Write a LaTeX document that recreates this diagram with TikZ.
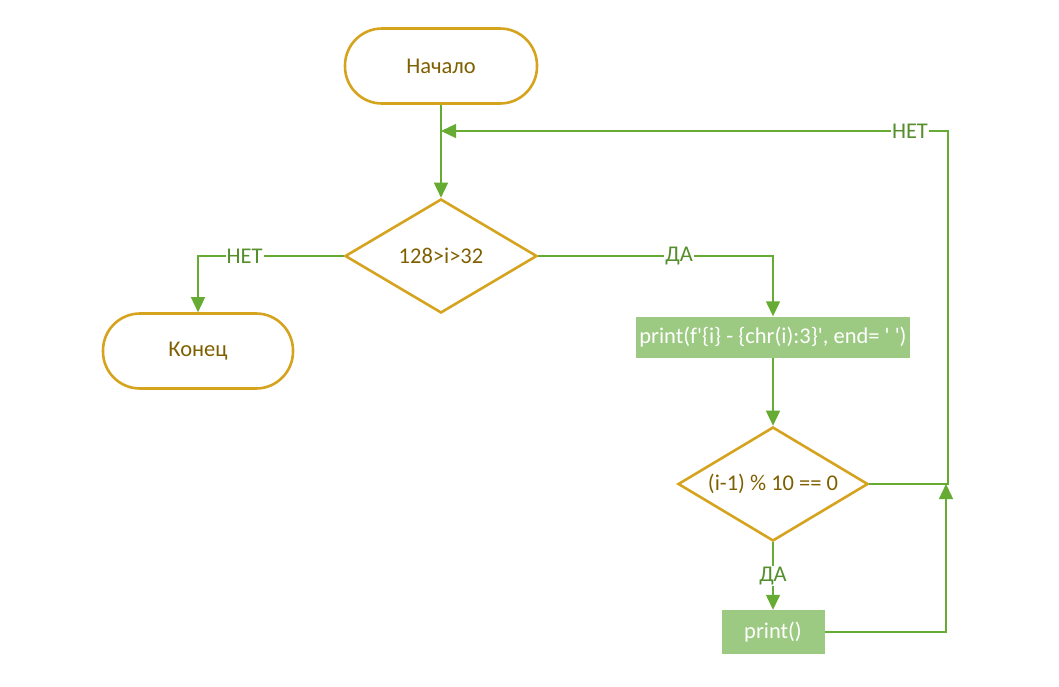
\documentclass[tikz,border=0pt]{standalone}
\usepackage{fontspec}
\setmainfont{Carlito}
\usepackage{xcolor}
\usetikzlibrary{shapes.geometric, arrows.meta, positioning}
\definecolor{gold}{HTML}{D6A31E}
\definecolor{goldtext}{HTML}{7F6000}
\definecolor{flowgreen}{HTML}{66AB33}
\definecolor{lblgreen}{HTML}{548F2C}
\definecolor{boxgreen}{HTML}{9CCA82}
\newcommand{\q}{\textquotesingle}

\begin{document}
\begin{tikzpicture}[x=1pt, y=-1pt, font=\fontsize{22.5}{25}\selectfont,
  term/.style={draw=gold, line width=2.6pt, rounded corners=37pt, text=goldtext,
               minimum width=#1, minimum height=75pt, inner sep=0pt},
  cond/.style={draw=gold, line width=2.6pt, diamond, aspect=1.67, text=goldtext,
               minimum width=#1, minimum height=114pt, inner sep=0pt},
  proc/.style={fill=boxgreen, text=white, minimum height=#1, inner sep=2pt},
  flow/.style={draw=flowgreen, line width=1.4pt, -{Triangle[length=15pt,width=14pt]}},
  lbl/.style={fill=white, text=lblgreen, inner sep=1pt}]
\useasboundingbox (0,0) rectangle (1059,686);
%
\node[term=192pt] (start) at (441,66) {Начало};
\node[cond=192pt] (check) at (441,256) {128>i>32};
\node[term=190pt] (finish) at (198,351) {Конец};
\node[proc=41pt, minimum width=274pt] (out) at (773,337) {print(f\q\{i\} - \{chr(i):3\}\q, end= \q\ \q)};
\node[cond=190pt] (tens) at (773,484) {(i-1) \% 10 == 0};
\node[proc=44pt, minimum width=103pt] (newline) at (773,632) {print()};
%
\coordinate (loop) at (948,131);
\coordinate (join) at (441,131);
\coordinate (merge) at (946,484);
%
\draw[flow] (start) -- (check);
\draw[flow] (check.west) -| node[pos=0.34, lbl] {НЕТ} (finish.north);
\draw[flow] (check.east) -| node[pos=0.30, lbl] {ДА} (out.north);
\draw[flow] (out) -- (tens);
\draw[flow] (tens.south) -- node[lbl] {ДА} (newline.north);
\draw[flow] (tens.east) -| (loop) -- node[pos=0.075, lbl] {НЕТ} (join);
\draw[flow] (newline.east) -| (merge);
%
\end{tikzpicture}
\end{document}
